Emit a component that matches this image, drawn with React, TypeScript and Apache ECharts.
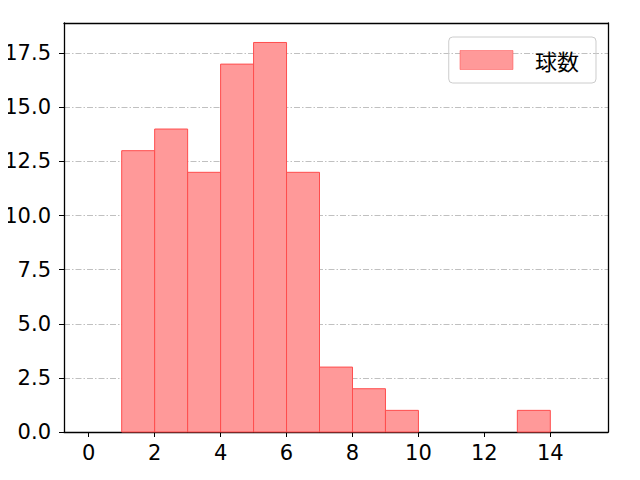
import React, { useEffect, useRef } from "react";
import * as echarts from "echarts";

// histogram bins (left edge, right edge) and counts
const binStarts = [1, 2, 3, 4, 5, 6, 7, 8, 9, 13];
const binEnds = [2, 3, 4, 5, 6, 7, 8, 9, 10, 14];
const counts = [13, 14, 12, 17, 18, 12, 3, 2, 1, 1];
const xTicks = [0, 2, 4, 6, 8, 10, 12, 14];
const seriesName = "球数";

const FONT = "'Noto Sans CJK JP', 'DejaVu Sans', sans-serif";
const NUM_FONT = "'DejaVu Sans', sans-serif";
const X_MIN = -0.75;
const X_MAX = 15.75;
const Y_MAX = 18.9;

export default function App() {
  const chartRef = useRef<HTMLDivElement>(null);

  useEffect(() => {
    if (!chartRef.current) return;
    const chart = echarts.init(chartRef.current, null, { renderer: "svg" });

    const data = binStarts.map((s, i) => [s, binEnds[i], counts[i]]);
    const frame = { show: true, onZero: false, lineStyle: { color: "#000", width: 1.3 } };

    chart.setOption({
      animation: false,
      grid: { left: 64, top: 23, width: 544, height: 409, outerBoundsMode: "none" },
      legend: {
        right: 44,
        top: 37,
        orient: "vertical",
        padding: [12, 17, 12, 11],
        itemWidth: 53,
        itemHeight: 19,
        borderColor: "#cccccc",
        borderWidth: 1,
        borderRadius: 4,
        textStyle: {
          fontFamily: FONT,
          fontSize: 22,
          color: "#000",
          padding: [0, 0, 0, 17],
        },
        data: [{ name: seriesName, icon: "rect", itemStyle: { borderWidth: 0.5 } }],
      },
      xAxis: [
        {
          type: "value",
          min: X_MIN,
          max: X_MAX,
          axisLine: frame,
          axisTick: {
            show: true,
            length: 5,
            customValues: xTicks,
            lineStyle: { color: "#000", width: 1 },
          },
          axisLabel: {
            customValues: xTicks,
            fontFamily: NUM_FONT,
            fontSize: 21,
            color: "#000",
            margin: 10,
          },
          splitLine: { show: false },
        },
        {
          type: "value",
          position: "top",
          min: X_MIN,
          max: X_MAX,
          axisLine: frame,
          axisTick: { show: false },
          axisLabel: { show: false },
          splitLine: { show: false },
        },
      ],
      yAxis: [
        {
          type: "value",
          min: 0,
          max: Y_MAX,
          interval: 2.5,
          axisLine: frame,
          axisTick: { show: true, length: 5, lineStyle: { color: "#000", width: 1 } },
          axisLabel: {
            fontFamily: NUM_FONT,
            fontSize: 21,
            color: "#000",
            margin: 13,
            showMaxLabel: false,
            formatter: (v: number) => v.toFixed(1),
          },
          splitLine: {
            show: true,
            showMaxLine: false,
            lineStyle: { color: "#b0b0b0", width: 0.8, type: [6, 2, 1.5, 2] },
          },
        },
        {
          type: "value",
          position: "right",
          min: 0,
          max: Y_MAX,
          axisLine: frame,
          axisTick: { show: false },
          axisLabel: { show: false },
          splitLine: { show: false },
        },
      ],
      series: [
        {
          name: seriesName,
          type: "custom",
          itemStyle: { color: "#ff9999", borderColor: "#ff4d4d", borderWidth: 0.5 },
          encode: { x: [0, 1], y: 2 },
          renderItem: (params: any, api: any) => {
            const p0 = api.coord([api.value(0), api.value(2)]);
            const p1 = api.coord([api.value(1), 0]);
            return {
              type: "rect",
              shape: { x: p0[0], y: p0[1], width: p1[0] - p0[0], height: p1[1] - p0[1] },
              style: { fill: "#ff9999", stroke: "#ff4d4d", lineWidth: 1 },
            };
          },
          data,
        },
      ],
    });

    return () => chart.dispose();
  }, []);

  return <div ref={chartRef} style={{ width: 640, height: 480, margin: -8 }} />;
}
